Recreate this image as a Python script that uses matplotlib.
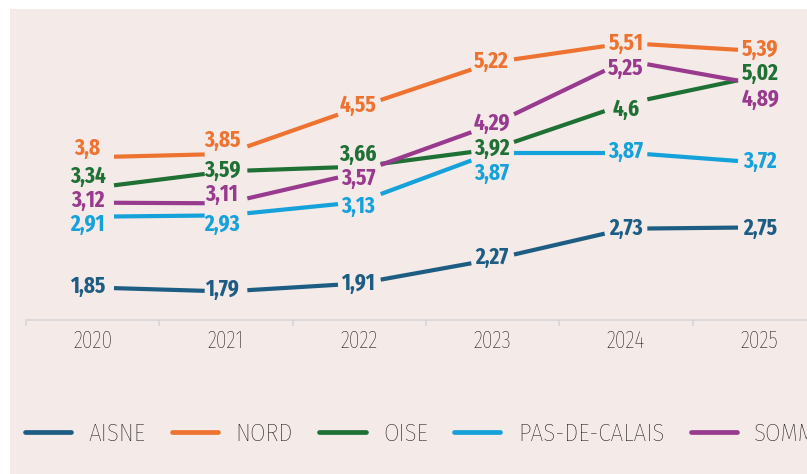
import matplotlib.pyplot as plt
from matplotlib.lines import Line2D
from matplotlib.patches import Rectangle

years = ["2020", "2021", "2022", "2023", "2024", "2025"]
aisne = [1.85, 1.79, 1.91, 2.27, 2.73, 2.75]
nord = [3.8, 3.85, 4.55, 5.22, 5.51, 5.39]
oise = [3.34, 3.59, 3.66, 3.92, 4.6, 5.02]
pas_de_calais = [2.91, 2.93, 3.13, 3.87, 3.87, 3.72]
somme = [3.12, 3.11, 3.57, 4.29, 5.25, 4.89]

series = [
    ("AISNE", aisne, "#1d5d83"),
    ("NORD", nord, "#ee7331"),
    ("OISE", oise, "#1f7035"),
    ("PAS-DE-CALAIS", pas_de_calais, "#15a1d9"),
    ("SOMME", somme, "#983a8e"),
]

# label nudges in pixels so labels do not collide
label_dy = {
    "AISNE": [2, 3, 1, 3, 1, 0],
    "NORD": [10, 15, 3, 2, 1, 3],
    "OISE": [13, 2, 13, 2, -4, 3],
    "PAS-DE-CALAIS": [-7, -8, -3, -20, 2, 2],
    "SOMME": [3, 10, -5, 2, -7, -14],
}
label_dx = [-5, -4, -1, -1, 0, 1]

BG = "#f4eae8"
EXTRA = ["Fira Sans Extra Condensed", "Fira Sans Condensed", "Roboto Condensed",
         "Liberation Sans Narrow", "DejaVu Sans"]
COND = ["Fira Sans Condensed", "Fira Sans Extra Condensed", "Roboto Condensed",
        "Liberation Sans Narrow", "DejaVu Sans"]
GAP = 0.16  # gap around each point, in category units

fig = plt.figure(figsize=(8.07, 4.74), dpi=100)
fig.patch.set_facecolor("white")
fig.patches.append(Rectangle((10 / 807, 0), 1, 1 - 9 / 474, transform=fig.transFigure,
                             facecolor=BG, edgecolor="none", zorder=-5))

ax = fig.add_axes([26 / 807, 1 - 320 / 474, 800 / 807, 311 / 474])
ax.set_facecolor("none")
ax.set_xlim(-0.5, 5.5)
ax.set_ylim(1.363, 6.02)

xs = list(range(len(years)))
for name, vals, color in series:
    for i in range(len(vals) - 1):
        slope = vals[i + 1] - vals[i]
        x0, x1 = xs[i] + GAP, xs[i + 1] - GAP
        y0, y1 = vals[i] + slope * GAP, vals[i + 1] - slope * GAP
        ax.plot([x0, x1], [y0, y1], color=color, lw=3, solid_capstyle="butt")
    for i, v in enumerate(vals):
        ax.annotate(f"{v:g}".replace(".", ","), (xs[i], v),
                    xytext=(label_dx[i], label_dy[name][i] - 1), textcoords="offset pixels",
                    ha="center", va="center", color=color, fontsize=16.5,
                    fontweight="bold", family=EXTRA)

for side in ["top", "left", "right"]:
    ax.spines[side].set_visible(False)
ax.spines["bottom"].set_color("#d6d6d6")
ax.spines["bottom"].set_linewidth(1.2)
ax.set_yticks([])
ax.set_xticks(xs)
ax.set_xticklabels(years, family=EXTRA, fontsize=17, fontweight="light", color="#0a0a0a")
ax.tick_params(axis="x", which="major", length=0, pad=7)
ax.set_xticks([x - 0.5 for x in xs] + [5.5], minor=True)
ax.tick_params(axis="x", which="minor", length=4, width=1.2, color="#d6d6d6")

handles = [Line2D([], [], color=c, lw=3.4, solid_capstyle="round") for _, _, c in series]
fig.legend(handles, [n for n, _, _ in series], loc="center left",
           bbox_to_anchor=(25 / 807, 1 - 434 / 474), ncol=5, frameon=False,
           handlelength=1.85, handletextpad=0.7, columnspacing=1.05, borderpad=0,
           borderaxespad=0, prop={"family": COND, "size": 18, "weight": "light"},
           labelcolor="#0a0a0a")

fig.savefig("out.png", dpi=100, facecolor=fig.get_facecolor())
